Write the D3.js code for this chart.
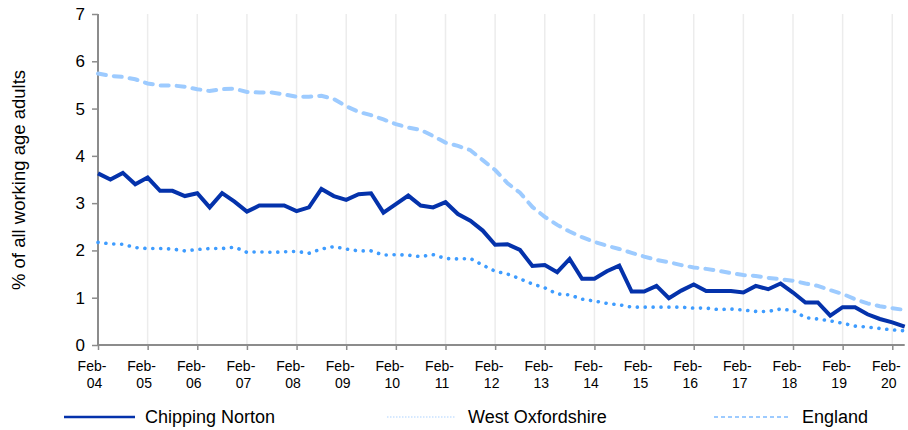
<!DOCTYPE html>
<html>
<head>
<meta charset="utf-8">
<script src="https://cdn.jsdelivr.net/npm/d3@7"></script>
<style>
  body { margin: 0; background: #fff; }
  text { font-family: "Liberation Sans", Arial, sans-serif; fill: #000; }
  .xlab { font-family: "Liberation Sans Narrow", "Arial Narrow", "Liberation Sans", sans-serif; }
</style>
</head>
<body>
<div id="chart"></div>
<script>
// quarterly values, Feb-04 .. May-20
let tickLabels = ["Feb-04","Feb-05","Feb-06","Feb-07","Feb-08","Feb-09","Feb-10","Feb-11","Feb-12",
                  "Feb-13","Feb-14","Feb-15","Feb-16","Feb-17","Feb-18","Feb-19","Feb-20"];

let chippingNorton = [3.63,3.50,3.64,3.40,3.54,3.26,3.26,3.15,3.21,2.91,3.21,3.03,2.82,2.95,2.95,2.95,
                      2.83,2.91,3.30,3.15,3.07,3.19,3.21,2.80,2.98,3.16,2.95,2.91,3.02,2.77,2.63,2.42,
                      2.12,2.13,2.01,1.67,1.69,1.54,1.82,1.40,1.40,1.56,1.68,1.13,1.13,1.25,0.99,1.15,
                      1.28,1.14,1.14,1.14,1.11,1.25,1.18,1.30,1.11,0.90,0.90,0.62,0.80,0.80,0.65,0.55,
                      0.48,0.39];

let westOxfordshire = [2.17,2.14,2.13,2.06,2.04,2.04,2.03,1.99,2.02,2.04,2.04,2.07,1.96,1.97,1.96,1.97,
                       1.98,1.94,2.03,2.08,2.03,1.99,1.99,1.90,1.91,1.90,1.87,1.91,1.83,1.82,1.83,1.69,
                       1.56,1.50,1.40,1.29,1.21,1.08,1.06,0.97,0.93,0.88,0.85,0.80,0.80,0.80,0.80,0.80,
                       0.78,0.78,0.75,0.76,0.74,0.71,0.71,0.76,0.73,0.58,0.55,0.51,0.46,0.40,0.38,0.35,
                       0.32,0.30];

let england = [5.74,5.69,5.67,5.62,5.53,5.49,5.49,5.46,5.41,5.37,5.41,5.42,5.35,5.34,5.34,5.30,
               5.25,5.25,5.27,5.20,5.05,4.93,4.86,4.77,4.67,4.60,4.55,4.42,4.28,4.21,4.12,3.91,
               3.70,3.42,3.22,2.92,2.71,2.54,2.40,2.28,2.18,2.10,2.03,1.95,1.87,1.80,1.75,1.69,
               1.64,1.61,1.57,1.52,1.48,1.46,1.42,1.39,1.36,1.30,1.25,1.16,1.08,0.97,0.88,0.82,
               0.78,0.74];

let yTicks = [0,1,2,3,4,5,6,7];

let width = 908, height = 430;

let svg = d3.select("#chart").append("svg")
  .attr("width", width)
  .attr("height", height);

let x = d3.scaleLinear()
  .domain([0, chippingNorton.length - 1])
  .range([98, 904.7]);

let y = d3.scaleLinear()
  .domain([0, 7])
  .range([345, 14]);

let tickIdx = tickLabels.map(function(d, i) { return i * 4; });

// vertical gridlines
svg.append("g")
  .selectAll("line")
  .data(tickIdx.slice(1))
  .enter().append("line")
  .attr("x1", function(d) { return x(d); })
  .attr("x2", function(d) { return x(d); })
  .attr("y1", y(7))
  .attr("y2", y(0))
  .attr("stroke", "#ececec")
  .attr("stroke-width", 1.5);

// x axis
let xAxis = svg.append("g")
  .attr("transform", "translate(0," + y(0) + ")")
  .call(d3.axisBottom(x).tickValues(tickIdx).tickSize(5).tickFormat(""));
xAxis.select(".domain").attr("stroke", "#8c8c8c").attr("stroke-width", 2)
  .attr("d", "M" + x(0) + ",0H" + x(chippingNorton.length - 1));
xAxis.selectAll(".tick line").attr("stroke", "#8c8c8c").attr("stroke-width", 1.5);

let xl = svg.append("g").selectAll("text")
  .data(tickIdx)
  .enter().append("text")
  .attr("class", "xlab")
  .attr("text-anchor", "middle")
  .style("font-size", "14px");
xl.append("tspan")
  .attr("x", function(d) { return x(d) - 6; })
  .attr("y", 371)
  .text(function(d, i) { return tickLabels[i].split("-")[0] + "-"; });
xl.append("tspan")
  .attr("x", function(d) { return x(d) - 3.5; })
  .attr("y", 388)
  .text(function(d, i) { return tickLabels[i].split("-")[1]; });

// y axis
let yAxis = svg.append("g")
  .attr("transform", "translate(" + x(0) + ",0)")
  .call(d3.axisLeft(y).tickValues(yTicks).tickSize(6).tickPadding(7).tickFormat(d3.format("d")));
yAxis.select(".domain").attr("stroke", "#8c8c8c").attr("stroke-width", 2)
  .attr("d", "M0," + y(7) + "V" + y(0));
yAxis.selectAll(".tick line").attr("stroke", "#8c8c8c").attr("stroke-width", 1.5);
yAxis.selectAll(".tick text")
  .style("font-family", "'Liberation Sans', Arial, sans-serif")
  .style("font-size", "17px")
  .attr("fill", "#000");

svg.append("text")
  .attr("transform", "translate(25,180) rotate(-90)")
  .attr("text-anchor", "middle")
  .style("font-size", "18.5px")
  .text("% of all working age adults");

let line = d3.line()
  .x(function(d, i) { return x(i); })
  .y(function(d) { return y(d); });

svg.append("path")
  .datum(england)
  .attr("d", line)
  .attr("fill", "none")
  .attr("stroke", "#9dcbff")
  .attr("stroke-width", 4)
  .attr("stroke-linecap", "round")
  .attr("stroke-dasharray", "8 8");

svg.append("path")
  .datum(westOxfordshire)
  .attr("d", line)
  .attr("fill", "none")
  .attr("stroke", "#3e9cff")
  .attr("stroke-width", 3.6)
  .attr("stroke-linecap", "round")
  .attr("stroke-dasharray", "0.1 7.8");

svg.append("path")
  .datum(chippingNorton)
  .attr("d", line)
  .attr("fill", "none")
  .attr("stroke", "#0432ab")
  .attr("stroke-width", 4)
  .attr("stroke-linejoin", "miter");

// legend
let legend = [
  { name: "Chipping Norton", x1: 64, x2: 135, tx: 145, color: "#0432ab", w: 2.5, dash: null },
  { name: "West Oxfordshire", x1: 387, x2: 456, tx: 468, color: "#c9e2ff", w: 1.5, dash: "1.5 1.5" },
  { name: "England", x1: 714, x2: 791, tx: 802, color: "#9dcbff", w: 2, dash: "4 3" }
];
let lg = svg.append("g").selectAll("g")
  .data(legend)
  .enter().append("g");
lg.append("line")
  .attr("x1", function(d) { return d.x1; })
  .attr("x2", function(d) { return d.x2; })
  .attr("y1", 417).attr("y2", 417)
  .attr("stroke", function(d) { return d.color; })
  .attr("stroke-width", function(d) { return d.w; })
  .attr("stroke-dasharray", function(d) { return d.dash; });
lg.append("text")
  .attr("x", function(d) { return d.tx; })
  .attr("y", 423)
  .style("font-size", "18px")
  .text(function(d) { return d.name; });
</script>
</body>
</html>
